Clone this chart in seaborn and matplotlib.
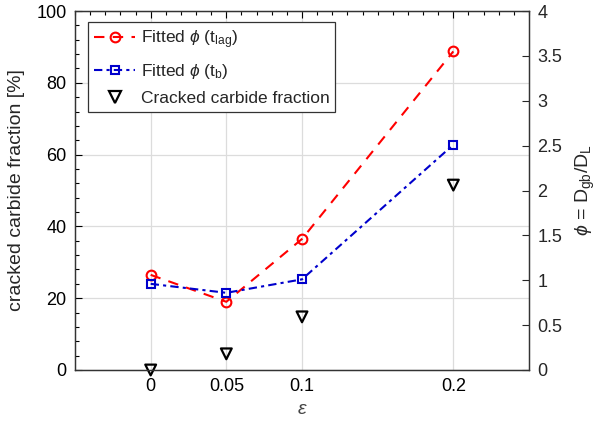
import numpy as np
import pandas as pd
import matplotlib
matplotlib.use("Agg")
import matplotlib.pyplot as plt
from matplotlib.ticker import MultipleLocator, FixedLocator
from matplotlib.lines import Line2D
import seaborn as sns

strain = [0.0, 0.05, 0.1, 0.2]
phi_tlag = [1.06, 0.76, 1.46, 3.55]
phi_tb = [0.96, 0.86, 1.01, 2.51]
cracked_pct = [0.0, 4.5, 14.8, 51.5]

sns.set_theme(style="white")
plt.rcParams["font.family"] = ["Liberation Sans", "DejaVu Sans"]
plt.rcParams["mathtext.fontset"] = "custom"
plt.rcParams["mathtext.rm"] = "Liberation Sans"
plt.rcParams["mathtext.it"] = "Liberation Sans:italic"

df_phi = pd.DataFrame({"strain": strain, "tlag": phi_tlag, "tb": phi_tb})
df_crack = pd.DataFrame({"strain": strain, "crack": cracked_pct})

fig = plt.figure(figsize=(6.07, 4.25), dpi=100)
ax = fig.add_axes([75/607, 1-370/425, (529-75)/607, (370-11)/425])
ax2 = ax.twinx()

# left axis: cracked carbide fraction
sns.scatterplot(data=df_crack, x="strain", y="crack", ax=ax, marker="v", s=60,
                facecolor="none", edgecolor="black", linewidth=1.6, zorder=5,
                clip_on=False, legend=False)

# right axis: fitted phi
sns.lineplot(data=df_phi, x="strain", y="tlag", ax=ax2, color="red",
             linestyle=(0, (5, 4)), linewidth=1.5, marker="o", markersize=7,
             markerfacecolor="none", markeredgecolor="red", markeredgewidth=1.5,
             legend=False)
sns.lineplot(data=df_phi, x="strain", y="tb", ax=ax2, color="#0000cc",
             linestyle=(0, (4, 2, 1.5, 2)), linewidth=1.5, marker="s", markersize=6,
             markerfacecolor="none", markeredgecolor="#0000cc", markeredgewidth=1.5,
             legend=False)

ax.set_xlim(-0.05, 0.25)
ax.set_ylim(0, 100)
ax2.set_ylim(0, 4)

ax.xaxis.set_major_locator(FixedLocator(strain))
ax.set_xticklabels(["0", "0.05", "0.1", "0.2"])
ax.xaxis.set_minor_locator(MultipleLocator(0.01))
ax.yaxis.set_major_locator(MultipleLocator(20))
ax.yaxis.set_minor_locator(MultipleLocator(4))
ax2.set_yticks(np.arange(0, 4.01, 0.5))
ax2.set_yticklabels(["0", "0.5", "1", "1.5", "2", "2.5", "3", "3.5", "4"])

ax.grid(True, which="major", color="#dcdcdc", linewidth=0.9)
ax.set_axisbelow(True)

ax.tick_params(axis="both", which="both", direction="in", top=True, right=False,
               labelsize=13, colors="black", pad=6)
ax.tick_params(which="major", length=5, width=0.8)
ax.tick_params(which="minor", length=3, width=0.8)
ax2.tick_params(axis="y", direction="in", length=5, width=0.8, labelsize=13, pad=6)

for a in (ax, ax2):
    for s in a.spines.values():
        s.set_color("#333333")
        s.set_linewidth(0.9)

ax.set_xlabel(r"$\varepsilon$", fontsize=14, labelpad=4, color="#444444")
ax.set_ylabel("cracked carbide fraction [%]", fontsize=14, labelpad=8)
ax2.set_ylabel(r"$\phi$ = D$_{\rm gb}$/D$_{\rm L}$", fontsize=14, labelpad=8)

handles = [
    Line2D([], [], color="red", linestyle=(0, (5, 4)), linewidth=1.5, marker="o",
           markersize=7, markerfacecolor="none", markeredgecolor="red", markeredgewidth=1.5),
    Line2D([], [], color="#0000cc", linestyle=(0, (4, 2, 1.5, 2)), linewidth=1.5, marker="s",
           markersize=6, markerfacecolor="none", markeredgecolor="#0000cc", markeredgewidth=1.5),
    Line2D([], [], color="none", marker="v", markersize=8, markerfacecolor="none",
           markeredgecolor="black", markeredgewidth=1.6),
]
labels = [r"Fitted $\phi$ (t$_{\rm lag}$)", r"Fitted $\phi$ (t$_{\rm b}$)",
          "Cracked carbide fraction"]
leg = ax2.legend(handles, labels, loc="upper left", bbox_to_anchor=(0.028, 0.968),
                 fontsize=12.5, frameon=True, fancybox=False, edgecolor="#333333",
                 framealpha=1, handlelength=2.4, handletextpad=0.3,
                 borderpad=0.35, labelspacing=0.6, borderaxespad=0)
leg.get_frame().set_linewidth(0.9)

fig.savefig("out.png", dpi=100)
